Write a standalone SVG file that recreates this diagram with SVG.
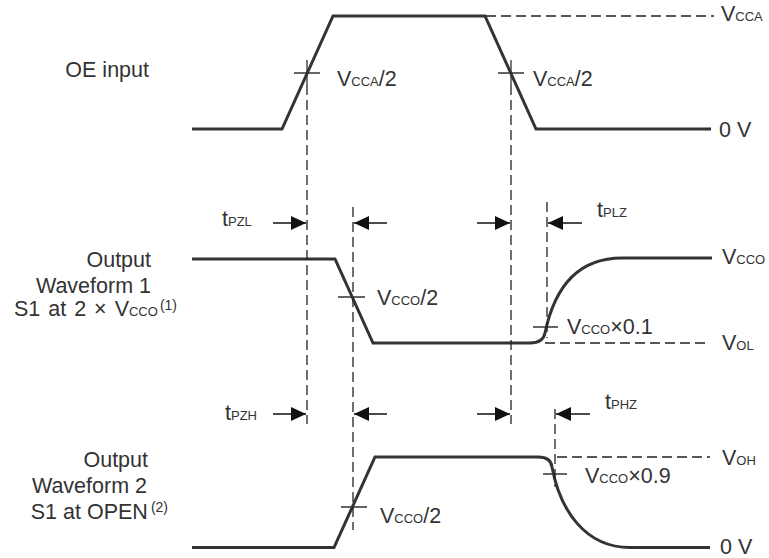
<svg xmlns="http://www.w3.org/2000/svg" width="769" height="558" viewBox="0 0 769 558">
<defs>
<style>
.wave{fill:none;stroke:#333;stroke-width:3;stroke-linejoin:miter}
.dash{fill:none;stroke:#222;stroke-width:1.3;stroke-dasharray:10 5}
.tick{fill:none;stroke:#333;stroke-width:1.3}
.arr{fill:none;stroke:#111;stroke-width:1.5;marker-end:url(#ah)}
text{font-family:"Liberation Sans",Arial,sans-serif;font-size:21.5px;fill:#333}
.s{font-size:13px}
.sup{font-size:14px}
</style>
<marker id="ah" markerUnits="userSpaceOnUse" markerWidth="15" markerHeight="14" refX="15" refY="7" orient="auto">
<path d="M0,0 L15,7 L0,14 z" fill="#111"/>
</marker>
</defs>
<rect width="769" height="558" fill="#fff"/>

<g id="labels-left">
<text x="149" y="77" text-anchor="end">OE input</text>
<text x="151" y="267" text-anchor="end">Output</text>
<text x="151" y="293" text-anchor="end">Waveform 1</text>
<text x="177" y="316" text-anchor="end" word-spacing="2">S1 at 2 × V<tspan class="s">CCO</tspan><tspan class="sup" dx="2" dy="-6">(1)</tspan></text>
<text x="148" y="467" text-anchor="end">Output</text>
<text x="147" y="493" text-anchor="end">Waveform 2</text>
<text x="168" y="519" text-anchor="end">S1 at OPEN<tspan class="sup" dx="3" dy="-7">(2)</tspan></text>
</g>

<g id="oe-input">
<path class="wave" d="M192,129 L282,129 L333,16 L485,16 L536,129 L711,129"/>
<path class="dash" d="M486,16 L714,16"/>
<path class="tick" d="M294,73 L320,73 M307,60 L307,85 M498,73 L524,73 M511,60 L511,85"/>
<text x="337" y="86">V<tspan class="s">CCA</tspan>/2</text>
<text x="533" y="86">V<tspan class="s">CCA</tspan>/2</text>
<text x="721" y="21">V<tspan class="s">CCA</tspan></text>
<text x="719" y="137">0 V</text>
</g>

<g id="waveform1">
<path class="wave" d="M192,259 L335,259 L373,343 L530,343 Q543,343 545,333 C555,285 580,258 622,258 L712,258"/>
<path class="dash" d="M545,343 L710,343"/>
<path class="tick" d="M338,297 L365,297 M533,327 L558,327"/>
<text x="377" y="305">V<tspan class="s">CCO</tspan>/2</text>
<text x="567" y="334">V<tspan class="s">CCO</tspan>×0.1</text>
<text x="722" y="264">V<tspan class="s">CCO</tspan></text>
<text x="722" y="350">V<tspan class="s">OL</tspan></text>
</g>

<g id="waveform2">
<path class="wave" d="M192,547.5 L334,547.5 L375,457 L538,457 Q551,457 552,467 C560,510 585,547.5 630,547.5 L710,547.5"/>
<path class="dash" d="M557,457 L710,457"/>
<path class="tick" d="M341,507 L367,507 M543,474 L567,474"/>
<text x="380" y="523">V<tspan class="s">CCO</tspan>/2</text>
<text x="585" y="483">V<tspan class="s">CCO</tspan>×0.9</text>
<text x="722" y="465">V<tspan class="s">OH</tspan></text>
<text x="720" y="554">0 V</text>
</g>

<g id="connectors">
<path class="dash" d="M307,85 L307,424 M511,85 L511,424 M353,207 L353,530 M547,202 L547,338 M555,409 L555,487"/>
<line class="arr" x1="273" y1="223" x2="306" y2="223"/>
<line class="arr" x1="387" y1="223" x2="354" y2="223"/>
<line class="arr" x1="477" y1="223" x2="510" y2="223"/>
<line class="arr" x1="582" y1="223" x2="548" y2="223"/>
<line class="arr" x1="273" y1="414" x2="306" y2="414"/>
<line class="arr" x1="387" y1="414" x2="354" y2="414"/>
<line class="arr" x1="477" y1="414" x2="510" y2="414"/>
<line class="arr" x1="590" y1="414" x2="556" y2="414"/>
<text x="222" y="226">t<tspan class="s">PZL</tspan></text>
<text x="597" y="217">t<tspan class="s">PLZ</tspan></text>
<text x="225" y="420">t<tspan class="s">PZH</tspan></text>
<text x="605" y="409">t<tspan class="s">PHZ</tspan></text>
</g>
</svg>
